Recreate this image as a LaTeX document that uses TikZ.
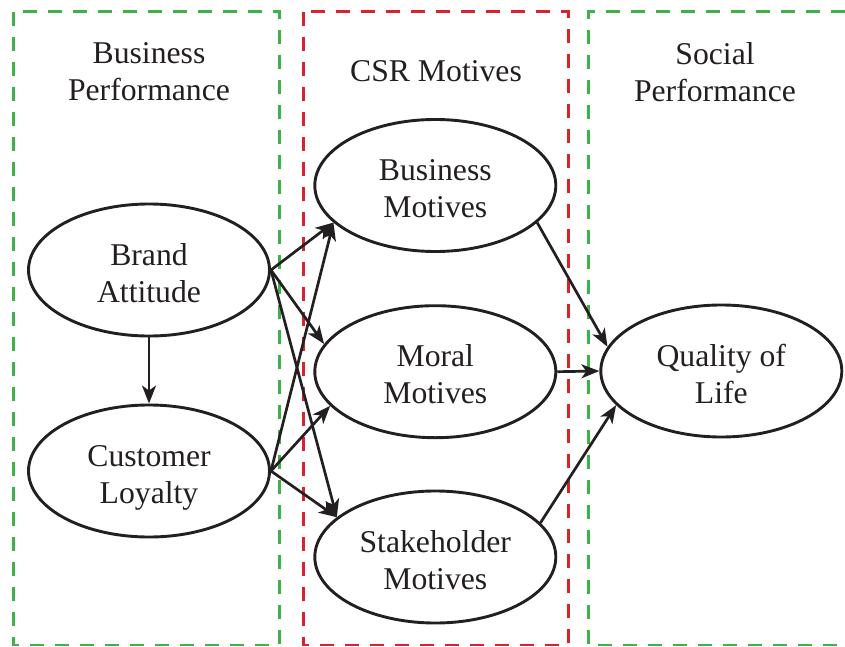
\documentclass[tikz,border=0pt]{standalone}
\usepackage{fontspec}
\setmainfont{Liberation Serif}
\usetikzlibrary{shapes.geometric,arrows.meta}
\definecolor{boxgreen}{RGB}{60,178,72}
\definecolor{boxred}{RGB}{216,35,45}
\definecolor{ink}{RGB}{35,31,32}
\newcommand{\topstrut}{\rule{0pt}{27.5pt}}
\tikzset{
  oval/.style={ellipse, draw=ink, line width=2.9pt, minimum width=241pt, minimum height=132pt,
    inner sep=0pt, align=center, text=ink, text depth=0pt,
    font=\fontsize{31.7}{37}\selectfont},
  title/.style={align=center, text=ink, text depth=0pt, inner sep=0pt,
    font=\fontsize{31.7}{37}\selectfont},
  gbox/.style={draw=boxgreen, line width=2.8pt, dash pattern=on 14pt off 11pt},
  rbox/.style={draw=boxred, line width=2.8pt, dash pattern=on 14pt off 11pt},
  arr/.style={draw=ink, line width=2.7pt, -{Stealth[length=18pt,width=14pt,inset=5pt]}}
}
\begin{document}
\begin{tikzpicture}[x=1pt,y=-1pt]
\useasboundingbox (0,0) rectangle (845,647);
% boxes
\draw[gbox] (13.3,11.7) rectangle (279.3,645);
\draw[rbox] (303.3,11.7) rectangle (568.3,645);
\draw[gbox] (845,11.7) -- (588.3,11.7) -- (588.3,645) -- (845,645);
% titles
\node[title] (t1) at (149,72) {Business\\Performance};
\node[title, anchor=base] (t2) at (436,81.7) {CSR Motives};
\node[title] (t3) at (715,72) {Social\\Performance};
% ellipses
\node[oval] (ba) at (149,270) {\topstrut Brand\\Attitude};
\node[oval] (cl) at (149,471) {\topstrut Customer\\Loyalty};
\node[oval] (bm) at (435.3,185.5) {\topstrut Business\\Motives};
\node[oval] (mm) at (435.3,371.7) {\topstrut Moral\\Motives};
\node[oval] (sm) at (435.3,557) {\topstrut Stakeholder\\Motives};
\node[oval] (ql) at (721.3,371) {\topstrut Quality of\\Life};
% arrows
\draw[arr] (ba.south) -- (cl.north);
\draw[arr] (ba.east) -- (bm.200.6);
\draw[arr] (ba.east) -- (mm.166.8);
\draw[arr] (ba.east) -- (sm.158.7);
\draw[arr] (cl.east) -- (bm.200.6);
\draw[arr] (cl.east) -- (mm.198.7);
\draw[arr] (cl.east) -- (sm.158.7);
\draw[arr] (bm.340) -- (ql.168.2);
\draw[arr] (mm.east) -- (ql.west);
\draw[arr] (sm.18.1) -- (ql.198.3);
\end{tikzpicture}
\end{document}
